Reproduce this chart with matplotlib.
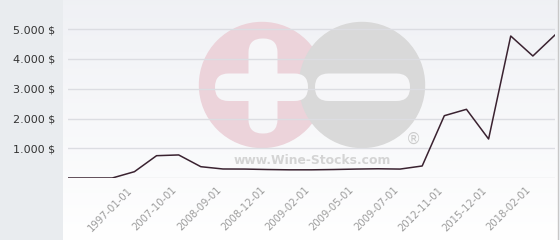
import numpy as np
import matplotlib
matplotlib.use('Agg')
import matplotlib.pyplot as plt
from matplotlib.patches import Circle, FancyBboxPatch, Rectangle

# price history (USD), one point per listed date
dates = ['', '', '', '1997-01-01', '', '2007-10-01', '', '2008-09-01', '',
         '2008-12-01', '', '2009-02-01', '', '2009-05-01', '', '2009-07-01',
         '', '2012-11-01', '', '2015-12-01', '', '2018-02-01', '']
prices = [0, 0, 0, 212, 750, 775, 380, 303, 300, 285, 275, 275, 285,
          300, 310, 300, 404, 2094, 2309, 1311, 4773, 4101, 4807]
y_ticks = [1000, 2000, 3000, 4000, 5000]

W, H = 560, 240
fig = plt.figure(figsize=(W / 100, H / 100), dpi=100)
fig.patch.set_facecolor('#e9ecef')

# background panel in pixel coords (gradient + watermark)
bg = fig.add_axes([63 / W, 0, (559 - 63) / W, 1])
bg.set_xlim(63, 559)
bg.set_ylim(H, 0)
bg.axis('off')
grad = np.linspace(0, 1, 256).reshape(-1, 1)
top = np.array([0.94, 0.945, 0.96])
bot = np.array([1.0, 1.0, 1.0])
img = top + (bot - top) * grad[:, :, None]
bg.imshow(img, extent=[63, 559, H, 0], aspect='auto', zorder=0)
bg.add_patch(Rectangle((558, 0), 1.2, H, color='#c8c8c8', zorder=1))

# watermark logo
bg.add_patch(Circle((262, 85), 62.5, color='#ecd3da', zorder=2))
bg.add_patch(Circle((362, 85), 62.5, color='#d9d9d9', zorder=3))
wb = '#f6f6f8'
bg.add_patch(FancyBboxPatch((248.5, 38.5), 29, 95,
                            boxstyle='round,pad=0,rounding_size=14',
                            fc=wb, ec='none', zorder=4))
bg.add_patch(FancyBboxPatch((215, 73.5), 93, 27.5,
                            boxstyle='round,pad=0,rounding_size=13.5',
                            fc=wb, ec='none', zorder=4))
bg.add_patch(FancyBboxPatch((315, 73.5), 95, 27.5,
                            boxstyle='round,pad=0,rounding_size=13.5',
                            fc=wb, ec='none', zorder=4))
bg.text(312, 160.5, 'www.Wine-Stocks.com', ha='center', va='center',
        fontsize=8.9, fontweight='bold', color='#d4d4d4', zorder=5)
bg.text(413, 139, '\u00ae', ha='center', va='center', fontsize=11,
        color='#cccccc', zorder=5)

# main chart
ax = fig.add_axes([68 / W, (H - 178) / H, (555 - 68) / W, 178 / H])
ax.patch.set_alpha(0)
x = np.arange(len(prices))
ax.plot(x, prices, color='#3a2230', lw=1.1, zorder=3)
ax.set_xlim(0, len(prices) - 1)
ax.set_ylim(0, 178 / 29.75 * 1000)

for v in [0] + y_ticks:
    ax.axhline(v, color='#dcdde2', lw=1, zorder=1)

ax.set_yticks(y_ticks)
ax.set_yticklabels([f'{v // 1000}.000 $' for v in y_ticks],
                   fontsize=8, color='#333333')
ax.tick_params(axis='y', length=0, pad=9.5)
ax.set_xticks(x)
ax.set_xticklabels(dates, rotation=45, ha='right', fontsize=7.2,
                   color='#9c9c9c')
ax.tick_params(axis='x', length=0, pad=5)
for s in ax.spines.values():
    s.set_visible(False)

fig.savefig('out.png', dpi=100)
